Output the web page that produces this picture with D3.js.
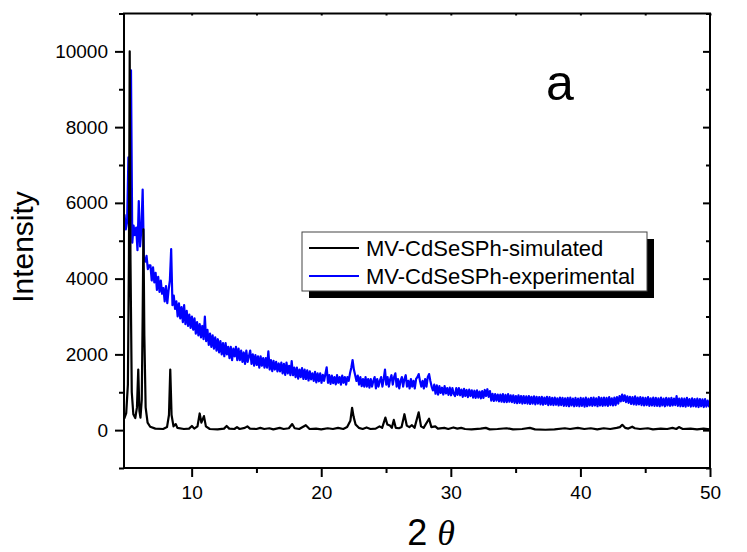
<!DOCTYPE html>
<html>
<head>
<meta charset="utf-8">
<script src="https://cdn.jsdelivr.net/npm/d3@7/dist/d3.min.js"></script>
<style>
  body { margin: 0; background: #fff; }
  svg text { font-family: "Liberation Sans", Arial, sans-serif; }
</style>
</head>
<body>
<div id="chart"></div>
<script>
// simulated pattern, [2theta, intensity]
var simulated = [
  [4.8, 300], [4.95, 450], [5.08, 1200], [5.16, 4500], [5.22, 10000], [5.28, 4500], [5.38, 1000],
  [5.5, 420], [5.65, 320], [5.78, 600], [5.88, 1600], [5.97, 500], [6.05, 330], [6.15, 800],
  [6.22, 3000], [6.28, 5300], [6.35, 2500], [6.45, 600], [6.6, 200], [6.8, 90], [7.2, 40],
  [7.8, 30], [8.1, 80], [8.25, 400], [8.35, 1600], [8.45, 400], [8.6, 100], [8.77, 160],
  [8.9, 60], [9.4, 30], [9.8, 40], [10.02, 110], [10.2, 40], [10.45, 100], [10.62, 440],
  [10.75, 200], [10.95, 370], [11.1, 100], [11.4, 30], [12.0, 20], [12.5, 40], [12.7, 110],
  [12.9, 40], [13.3, 30], [13.5, 80], [13.7, 30], [14.1, 60], [14.3, 100], [14.5, 40],
  [15.0, 30], [15.3, 60], [15.6, 30], [16.0, 50], [16.3, 20], [16.8, 60], [17.1, 30],
  [17.5, 50], [17.76, 160], [17.95, 50], [18.3, 30], [18.81, 130], [19.1, 30], [19.6, 40],
  [20.0, 20], [20.5, 50], [20.9, 30], [21.3, 60], [21.7, 30], [22.0, 80], [22.25, 250],
  [22.38, 590], [22.5, 350], [22.65, 150], [22.9, 60], [23.2, 30], [23.5, 70], [23.8, 30],
  [24.2, 40], [24.5, 100], [24.7, 60], [24.95, 330], [25.1, 150], [25.3, 120], [25.45, 60],
  [25.6, 270], [25.75, 60], [26.0, 50], [26.2, 80], [26.42, 420], [26.6, 120], [26.8, 80],
  [27.0, 130], [27.2, 60], [27.52, 470], [27.7, 100], [27.9, 60], [28.32, 300], [28.5, 80],
  [28.8, 100], [29.0, 40], [29.5, 60], [29.8, 30], [30.2, 70], [30.5, 40], [30.8, 60],
  [31.1, 30], [31.6, 20], [32.3, 40], [32.7, 60], [33.0, 20], [33.6, 30], [34.3, 50],
  [34.8, 20], [35.5, 30], [36.1, 60], [36.5, 20], [37.3, 10], [38.0, 20], [38.8, 50],
  [39.2, 30], [39.8, 60], [40.3, 30], [40.8, 50], [41.3, 20], [41.8, 50], [42.3, 30],
  [42.8, 60], [43.05, 80], [43.23, 140], [43.45, 60], [43.7, 40], [44.0, 90], [44.2, 50],
  [44.6, 30], [45.2, 50], [45.6, 20], [46.2, 40], [46.7, 30], [47.1, 60], [47.4, 30],
  [47.6, 80], [47.9, 30], [48.5, 40], [49.0, 20], [49.5, 40], [50.0, 20]
];

// experimental pattern, one value every 0.1 deg from 4.82
var expStart = 4.82, expStep = 0.1;
var experimental = [
  5700, 5300, 5500, 7200, 6000, 9500, 4950, 5400, 5150, 5350,
  4750, 6050, 4850, 5300, 6350, 4500, 4450, 4600, 4250, 4350,
  4350, 3950, 4300, 3900, 4150, 3700, 4050, 3650, 3950, 3600,
  3750, 3400, 3800, 3350, 3700, 3950, 4780, 3300, 3550, 3200,
  3400, 3000, 3350, 2950, 3250, 2850, 3300, 2800, 3150, 2750,
  3050, 2700, 3000, 2650, 2950, 2550, 2850, 2500, 2800, 2450,
  2750, 2400, 3000, 2350, 2650, 2250, 2550, 2200, 2500, 2150,
  2450, 2100, 2400, 2050, 2350, 2000, 2300, 1950, 2300, 2000,
  2200, 1900, 2200, 1850, 2150, 1950, 2200, 1850, 2150, 1850,
  2100, 1800, 2050, 1750, 2100, 1800, 1950, 2100, 1750, 2000,
  1700, 1980, 1720, 1950, 1650, 1950, 1700, 1900, 1650, 1900,
  1650, 2080, 1600, 1850, 1560, 1830, 1600, 1800, 1550, 1760,
  1550, 1780, 1500, 1750, 1460, 1780, 1500, 1700, 1450, 1820,
  1450, 1650, 1400, 1650, 1360, 1600, 1400, 1640, 1350, 1600,
  1350, 1580, 1310, 1550, 1340, 1500, 1300, 1540, 1260, 1500,
  1290, 1500, 1250, 1460, 1300, 1480, 1660, 1250, 1450, 1220,
  1440, 1240, 1400, 1210, 1450, 1250, 1400, 1200, 1440, 1250,
  1400, 1200, 1400, 1300, 1500, 1650, 1850, 1600, 1450, 1300,
  1440, 1200, 1400, 1160, 1350, 1150, 1400, 1150, 1350, 1120,
  1350, 1150, 1300, 1400, 1100, 1350, 1150, 1300, 1400, 1150,
  1350, 1600, 1200, 1400, 1150, 1350, 1450, 1200, 1400, 1500,
  1150, 1350, 1100, 1300, 1400, 1150, 1350, 1450, 1150, 1300,
  1100, 1350, 1150, 1300, 1100, 1350, 1400, 1480, 1300, 1150,
  1300, 1100, 1350, 1150, 1400, 1480, 1300, 1150, 1050, 1200,
  960, 1180, 940, 1160, 980, 1120, 940, 1160, 970, 1110,
  930, 1120, 920, 1110, 960, 900, 1110, 930, 1110, 920,
  1070, 880, 1090, 900, 1060, 870, 1070, 900, 1050, 860,
  1040, 850, 1050, 860, 1020, 840, 1030, 850, 1060, 900,
  1080, 880, 1030, 780, 960, 770, 950, 780, 940, 760,
  940, 750, 950, 740, 930, 740, 950, 750, 920, 740,
  920, 720, 900, 710, 920, 720, 900, 700, 900, 710,
  890, 700, 900, 690, 880, 700, 890, 680, 880, 700,
  870, 680, 880, 670, 860, 690, 880, 660, 870, 670,
  850, 660, 860, 670, 840, 650, 860, 660, 850, 640,
  840, 640, 850, 630, 860, 650, 830, 630, 850, 640,
  830, 630, 850, 640, 840, 620, 860, 630, 830, 650,
  850, 640, 860, 650, 840, 630, 870, 650, 850, 640,
  860, 650, 850, 640, 870, 660, 840, 650, 860, 660,
  870, 700, 900, 760, 940, 770, 920, 740, 890, 720,
  880, 690, 870, 680, 890, 670, 860, 680, 870, 660,
  860, 650, 850, 660, 870, 640, 840, 650, 860, 640,
  850, 640, 840, 630, 860, 650, 830, 630, 850, 650,
  840, 640, 850, 650, 830, 660, 900, 640, 830, 630,
  840, 630, 830, 620, 850, 640, 820, 620, 840, 630,
  820, 620, 830, 610, 820, 630, 810, 610, 820, 620,
  780, 630, 720
];

var xTicks = [10, 20, 30, 40, 50];
var xMinor = [15, 25, 35, 45];
var yTicks = [0, 2000, 4000, 6000, 8000, 10000];
var yMinor = [-1000, 1000, 3000, 5000, 7000, 9000, 11000];
var seriesNames = ['MV-CdSeSPh-simulated', 'MV-CdSeSPh-experimental'];
var seriesColors = ['#000000', '#0000ff'];

(function(){
  var width = 747, height = 552;
  var mLeft = 124, mRight = 710, mTop = 13.5, mBottom = 468;

  var svg = d3.select('#chart').append('svg')
    .attr('width', width)
    .attr('height', height);

  var x = d3.scaleLinear().domain([4.78, 50]).range([mLeft, mRight]);
  var y = d3.scaleLinear().domain([-1000, 11000]).range([mBottom, mTop]);

  svg.append('clipPath').attr('id', 'clip')
    .append('rect')
    .attr('x', mLeft).attr('y', mTop)
    .attr('width', mRight - mLeft).attr('height', mBottom - mTop);

  var line = d3.line()
    .x(function(d){ return x(d[0]) })
    .y(function(d){ return y(d[1]) });

  var expPts = experimental.map(function(v, i){ return [expStart + i * expStep, v] });

  var plot = svg.append('g').attr('clip-path', 'url(#clip)');

  plot.append('path')
    .datum(expPts)
    .attr('d', line)
    .attr('fill', 'none')
    .attr('stroke', seriesColors[1])
    .attr('stroke-width', 2.2)
    .attr('stroke-linejoin', 'round');

  plot.append('path')
    .datum(simulated)
    .attr('d', line)
    .attr('fill', 'none')
    .attr('stroke', seriesColors[0])
    .attr('stroke-width', 2.2)
    .attr('stroke-linejoin', 'round');

  // axes
  function styleAxis(g){
    g.attr('font-size', null).attr('font-family', null);
    g.select('.domain').remove();
    g.selectAll('line').attr('stroke', '#000').attr('stroke-width', 2);
    g.selectAll('text').attr('fill', '#000').style('font-size', '19px');
  }

  svg.append('g')
    .attr('transform', 'translate(0,' + mBottom + ')')
    .call(d3.axisBottom(x).tickValues(xTicks).tickSize(9).tickPadding(9).tickFormat(d3.format('d')))
    .call(styleAxis);
  svg.append('g')
    .attr('transform', 'translate(0,' + mBottom + ')')
    .call(d3.axisBottom(x).tickValues(xMinor).tickSize(5).tickFormat(''))
    .call(styleAxis);

  svg.append('g')
    .attr('transform', 'translate(' + mLeft + ',0)')
    .call(d3.axisLeft(y).tickValues(yTicks).tickSize(9).tickPadding(7).tickFormat(d3.format('d')))
    .call(styleAxis);
  svg.append('g')
    .attr('transform', 'translate(' + mLeft + ',0)')
    .call(d3.axisLeft(y).tickValues(yMinor).tickSize(5).tickFormat(''))
    .call(styleAxis);

  // mirrored ticks inside
  svg.append('g')
    .attr('transform', 'translate(' + mRight + ',0)')
    .call(d3.axisLeft(y).tickValues(yTicks).tickSize(7).tickFormat(''))
    .call(styleAxis);
  svg.append('g')
    .attr('transform', 'translate(' + mRight + ',0)')
    .call(d3.axisLeft(y).tickValues(yMinor).tickSize(4).tickFormat(''))
    .call(styleAxis);
  svg.append('g')
    .attr('transform', 'translate(0,' + mTop + ')')
    .call(d3.axisBottom(x).tickValues(xTicks.concat(xMinor)).tickSize(2).tickFormat(''))
    .call(styleAxis);

  svg.append('rect')
    .attr('x', mLeft).attr('y', mTop)
    .attr('width', mRight - mLeft).attr('height', mBottom - mTop)
    .attr('fill', 'none')
    .attr('stroke', '#000')
    .attr('stroke-width', 2);

  // axis titles
  svg.append('text')
    .attr('transform', 'translate(33,247) rotate(-90)')
    .attr('text-anchor', 'middle')
    .style('font-size', '30px')
    .text('Intensity');

  var xt = svg.append('text')
    .attr('x', 431).attr('y', 545)
    .attr('text-anchor', 'middle')
    .style('font-size', '36px');
  xt.append('tspan').text('2 ');
  xt.append('tspan')
    .style('font-family', '"Liberation Serif", "DejaVu Serif", serif')
    .style('font-style', 'italic')
    .text('θ');

  svg.append('text')
    .attr('x', 546).attr('y', 100)
    .style('font-size', '50px')
    .text('a');

  // legend
  var lg = svg.append('g').attr('transform', 'translate(302,232)');
  lg.append('rect')
    .attr('x', 7).attr('y', 7).attr('width', 345).attr('height', 59)
    .attr('fill', '#000');
  lg.append('rect')
    .attr('width', 345).attr('height', 59)
    .attr('fill', '#fff')
    .attr('stroke', '#444')
    .attr('stroke-width', 1);
  seriesNames.forEach(function(name, i){
    var row = lg.append('g').attr('transform', 'translate(0,' + (16 + i * 28) + ')');
    row.append('line')
      .attr('x1', 7).attr('x2', 57)
      .attr('stroke', seriesColors[i])
      .attr('stroke-width', 2);
    row.append('text')
      .attr('x', 64).attr('y', 8)
      .style('font-size', '22px')
      .text(name);
  });
})();
</script>
</body>
</html>
